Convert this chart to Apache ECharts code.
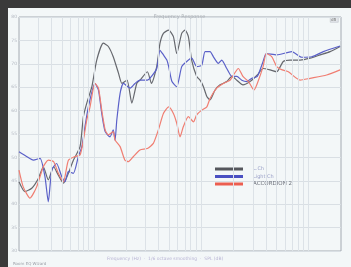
<!DOCTYPE html>
<html><head><meta charset="utf-8">
<script src="https://cdn.jsdelivr.net/npm/echarts@6/dist/echarts.min.js"></script>
<style>
html,body{margin:0;padding:0;width:351px;height:267px;overflow:hidden;background:#3a3a3a;}
#frame{position:absolute;left:8px;top:8px;width:343px;height:259px;background:#f3f7f8;}
#c{width:343px;height:259px;filter:blur(0.35px);}
</style></head><body>
<div id="frame"><div id="c"></div></div>
<script>
// Series names
const seriesNames = ['L.Ch', 'Light Ch', 'ACCORDION 2'];

// Gray trace (frequency Hz / level dB)
const grayFreq = [20,22.7,26.3,30.3,33.7,37.5,42,46.5,51.9,57.7,64.2,74.1,79.6,85.6,95.5,106,122,136,151,169,182,203,225,250,268,314,343,384,412,443,496,549,590,656,705,757,812,905,973,1046,1125,1205,1342,1494,1725,1926,2140,2440,2843,3320,3760,4367,5040,5800,6708,8314,10304,12770,15827,19615];
const grayDb =   [44.8,42.7,43.4,45.5,48,45.2,48,46.2,44.5,46.6,49.4,52.3,58.7,61.6,65.1,70.8,74.4,73.7,71.5,68,65.8,66.5,61.6,65.8,66.5,68.3,65.8,69.4,74.4,76.5,77.2,75.8,72.2,76.5,77.2,75.8,70.8,67.3,66.5,65.1,63,62.3,64.4,65.5,66.2,67.3,66.5,65.5,66.2,67.6,69,68.7,68.3,70.5,70.8,70.8,71.2,71.9,72.6,73.7];

// Blue trace
const blueFreq = [20,23.5,27.2,31.4,34.9,37.5,40.4,44.8,50,53.7,57.7,64.2,71.5,77,82.4,88.6,102,110,118,127,141,151,157,163,175,188,217,241,268,314,343,384,412,443,477,496,532,590,656,731,812,905,1009,1083,1205,1295,1440,1548,1725,1926,2140,2380,2650,2950,3320,3760,4030,5040,6960,8620,10700,13700,19615];
const blueDb =   [51.2,50.2,49.4,49.8,45.9,40.5,47.3,48.7,45.9,44.8,47,46.6,50.2,52.3,56.6,60.8,65.8,64.4,59.4,55.5,54.4,55.9,53.7,58,63.7,65.8,64.8,65.8,66.5,66.5,67.3,69,72.9,71.9,70.8,69.4,66.2,65.1,69.4,70.5,71.2,69.4,69.7,72.6,72.6,71.5,70.1,70.8,69,67.3,67.3,66.5,66.2,66.9,67.3,70.5,72.2,71.9,72.6,71.4,71.5,72.6,73.8];

// Red trace
const redFreq = [20,21.9,25.3,29.2,33.7,37.5,42,46.5,51.9,57.7,66.5,74.1,79.6,85.6,91.8,102,110,118,127,136,151,157,175,194,209,233,268,314,357,398,443,496,549,590,633,680,757,845,905,1009,1125,1205,1390,1600,1851,1990,2210,2440,2750,3090,3320,3760,4030,4540,5040,5670,6460,8314,10304,14700,19615];
const redDb =   [47.3,43.7,41.3,43.7,48,49.4,49.1,46.6,44.8,49.4,50.2,50.5,53.7,58,60.8,65.8,64.8,60.1,55.9,54.8,55.5,53.7,52.3,49.4,49.1,50.2,51.6,51.9,53,55.9,59.4,60.8,59.4,57.3,54.4,56.6,58.7,57.6,59.1,60.1,60.8,62.6,64.8,65.8,66.5,67.6,69,67.3,66.2,64.4,65.8,69.4,72.2,71.5,69.4,68.7,68.3,66.5,66.9,67.6,68.7];

// Axis gridline frequencies and tick labels
const gridFreqs = [30,40,50,60,70,80,90,100,200,300,400,500,600,700,800,900,1000,2000,3000,4000,5000,6000,7000,8000,9000,10000];
const xTickFreqs = [20,50,100,200,500,1000,2000,5000,10000,20000];
const xTickLabels = ['20','50','100','200','500','1k','2k','5k','10k','20k'];
const yMin = 30, yMax = 80, yStep = 5;

const L = Math.log10;
const pairs = (f, d) => f.map((v, i) => [L(v), d[i]]);

const chart = echarts.init(document.getElementById('c'), null, {renderer: 'canvas'});
const lineBase = {type: 'line', showSymbol: false, symbol: 'none', smooth: 0.2, z: 3, silent: true};

chart.setOption({
  animation: false,
  backgroundColor: 'transparent',
  title: {
    text: 'Frequency Response', left: 'center', top: 1,
    textStyle: {fontSize: 5, color: '#a8adb3', fontWeight: 'normal', fontFamily: 'DejaVu Sans'}
  },
  grid: {left: 11, top: 9, width: 322, height: 234, show: true, borderColor: '#a4aab2', borderWidth: 1, backgroundColor: 'transparent'},
  legend: {
    orient: 'vertical', left: 202, top: 153, icon: 'rect',
    itemWidth: 28, itemHeight: 3, itemGap: 1.5,
    textStyle: {fontSize: 5, lineHeight: 6, color: '#9aa0c8', padding: [0, 0, 0, 5], fontFamily: 'DejaVu Sans'},
    data: [
      {name: seriesNames[0]},
      {name: seriesNames[1]},
      {name: seriesNames[2], textStyle: {color: '#6a6e78', fontSize: 5.5}}
    ]
  },
  xAxis: {
    type: 'value', min: L(20), max: L(20000),
    axisLine: {show: false}, axisTick: {show: false},
    axisLabel: {show: false}, splitLine: {show: false}
  },
  yAxis: {
    type: 'value', min: yMin, max: yMax, interval: yStep,
    axisLine: {show: false}, axisTick: {show: false},
    axisLabel: {fontSize: 4.5, color: '#b4b9c2', margin: 2, fontFamily: 'DejaVu Sans'},
    splitLine: {lineStyle: {color: '#d9dfe4', width: 1}}
  },
  series: [
    {
      type: 'line', data: [[L(20), yMin]], showSymbol: false, symbol: 'none',
      lineStyle: {opacity: 0}, z: 1, silent: true, legendHoverLink: false,
      markLine: {
        silent: true, symbol: 'none', animation: false,
        lineStyle: {color: '#dce2e7', type: 'solid', width: 1},
        label: {show: false},
        data: gridFreqs.map(f => ({xAxis: L(f)}))
          .concat(xTickFreqs.map((f, i) => ({
            xAxis: L(f), lineStyle: {opacity: 0},
            label: {show: true, position: 'start', formatter: xTickLabels[i], fontSize: 4.5, color: '#b4b9c2', distance: 2}
          })))
      }
    },
    Object.assign({}, lineBase, {name: seriesNames[0], data: pairs(grayFreq, grayDb), color: '#55575d', lineStyle: {width: 1.2, color: '#66686e'}}),
    Object.assign({}, lineBase, {name: seriesNames[1], data: pairs(blueFreq, blueDb), color: '#4a50c2', lineStyle: {width: 1.2, color: '#5a60c8'}}),
    Object.assign({}, lineBase, {name: seriesNames[2], data: pairs(redFreq, redDb), color: '#ec5e50', lineStyle: {width: 1.2, color: '#f07e72'}})
  ],
  graphic: [
    {type: 'rect', left: 322, top: 9, shape: {width: 8, height: 5}, style: {fill: '#e4e8ec', stroke: '#b0b4ba', lineWidth: 0.5}, silent: true},
    {type: 'text', left: 323, top: 9.5, style: {text: 'dB', fontSize: 4, fill: '#777', fontFamily: 'DejaVu Sans'}, silent: true},
    {type: 'text', left: 99, top: 248, style: {text: 'Frequency (Hz)  ·  1/6 octave smoothing  ·  SPL (dB)', fontSize: 4.5, fill: '#b8b4d4', fontFamily: 'DejaVu Sans'}, silent: true},
    {type: 'text', left: 5, top: 254, style: {text: 'Room EQ Wizard', fontSize: 4, fill: '#9a9ea6', fontFamily: 'DejaVu Sans'}, silent: true}
  ]
});
</script>
</body></html>
